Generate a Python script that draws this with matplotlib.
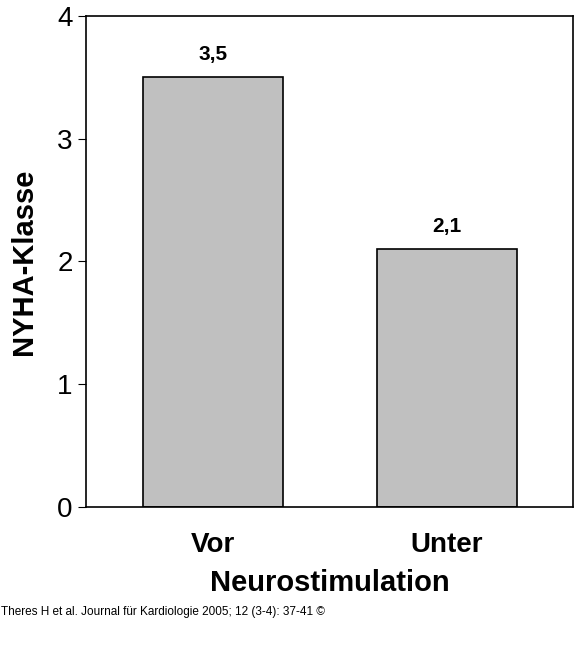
import matplotlib.pyplot as plt

categories = ["Vor", "Unter"]
values = [3.5, 2.1]
value_labels = ["3,5", "2,1"]

plt.rcParams['font.family'] = ['Liberation Sans', 'DejaVu Sans']

fig = plt.figure(figsize=(5.83, 6.61), dpi=100)
ax = fig.add_axes([0.1475, 0.233, 0.8354, 0.7428])

x = range(len(categories))
ax.bar(x, values, width=0.6, color="#c0c0c0", edgecolor="black", linewidth=1.2)
for xi, v, lab in zip(x, values, value_labels):
    ax.text(xi, v + 0.11, lab, ha="center", va="bottom", fontsize=15, fontweight="bold")

ax.set_xlim(-0.543, 1.538)
ax.set_ylim(0, 4)
ax.set_yticks([0, 1, 2, 3, 4])
ax.set_xticks(list(x))
ax.set_xticklabels(categories, fontsize=20, fontweight="bold")
ax.tick_params(axis="y", labelsize=20, direction="out", length=6)
ax.tick_params(axis="x", length=0, pad=18)
ax.set_ylabel("NYHA-Klasse", fontsize=21, fontweight="bold", labelpad=14)
ax.set_xlabel("Neurostimulation", fontsize=21, fontweight="bold", labelpad=8)
for s in ax.spines.values():
    s.set_linewidth(1.2)

fig.text(0.002, 1 - 612 / 661, "Theres H et al. Journal für Kardiologie 2005; 12 (3-4): 37-41 ©",
         fontsize=8.5, va="center", ha="left")

fig.savefig("out.png", dpi=100)
